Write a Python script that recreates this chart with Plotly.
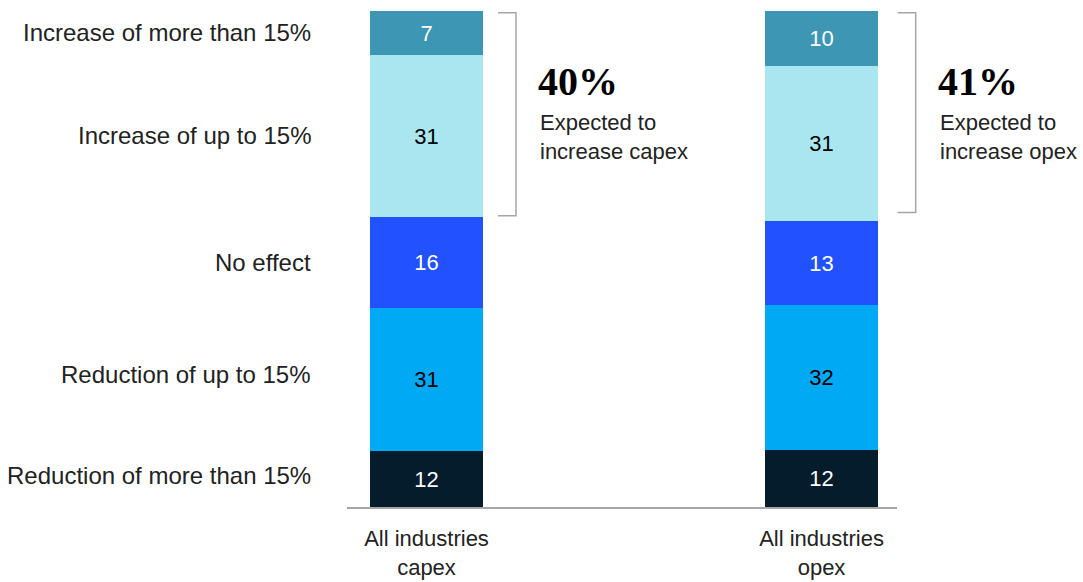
import plotly.graph_objects as go

# ---- data ----
categories = ["Reduction of more than 15%", "Reduction of up to 15%", "No effect",
              "Increase of up to 15%", "Increase of more than 15%"]
bars = ["All industries<br>capex", "All industries<br>opex"]
# segment shares (bar heights, % of respondents)
capex_share = [11.35, 28.77, 18.35, 32.72, 8.81]
opex_share = [11.55, 29.09, 16.94, 31.25, 11.09]
# printed labels
capex_labels = ["12", "31", "16", "31", "7"]
opex_labels = ["12", "32", "13", "31", "10"]
headline = ["40%", "41%"]
headline_sub = ["Expected to<br>increase capex", "Expected to<br>increase opex"]
bracket_ranges = [(58.7, 99.66), (59.4, 99.66)]

colors = ["#051C2C", "#00A9F4", "#2251FF", "#AAE6F0", "#3C96B4"]
text_colors = ["white", "black", "white", "black", "white"]

FONT = "Liberation Sans, Arial, sans-serif"
XR = [-0.2013, 1.1911]
PLOT_W = 550.0


def to_paper(xd):
    return (xd - XR[0]) / (XR[1] - XR[0])


fig = go.Figure()
xs = [0, 1]
for i, cat in enumerate(categories):
    fig.add_trace(go.Bar(
        x=xs, y=[capex_share[i], opex_share[i]],
        text=[capex_labels[i], opex_labels[i]],
        textposition="inside", insidetextanchor="middle",
        textfont=dict(color=text_colors[i], size=22, family=FONT),
        marker=dict(color=colors[i], line=dict(width=0)),
        width=0.286, name=cat, showlegend=False, hoverinfo="skip",
        textangle=0, constraintext="none",
    ))

# category labels on left at capex segment midpoints
label_shift = [-3, -5, 0, 0, 0]
cum = 0
for i, cat in enumerate(categories):
    mid = cum + capex_share[i] / 2
    cum += capex_share[i]
    fig.add_annotation(x=0, xref="paper", y=mid, yref="y", text=cat,
                       xanchor="right", yanchor="middle", xshift=-34, yshift=-label_shift[i],
                       showarrow=False,
                       font=dict(size=24, family=FONT, color="#222"))

# brackets and headline text
bracket_gap = [33, 37.7]   # px from bar edge to bracket vertical
for j in range(2):
    x_bar_right = xs[j] + 0.143
    x1 = to_paper(x_bar_right) + bracket_gap[j] / PLOT_W
    x0 = x1 - 18 / PLOT_W
    lo, hi = bracket_ranges[j]
    fig.add_shape(type="path",
                  path=f"M {x0} {hi} L {x1} {hi} L {x1} {lo} L {x0} {lo}",
                  xref="paper", yref="y", line=dict(color="#A6A6A6", width=1.5))
    fig.add_annotation(x=x1 + 20 / PLOT_W, xref="paper", y=0.857, yref="paper", text=f"<b>{headline[j]}</b>",
                       xanchor="left", yanchor="middle", showarrow=False,
                       font=dict(size=40, family="Liberation Serif, Times New Roman, serif", color="#000"))
    fig.add_annotation(x=x1 + 22 / PLOT_W, xref="paper", y=0.746, yref="paper", text=headline_sub[j],
                       xanchor="left", yanchor="middle", showarrow=False, align="left",
                       font=dict(size=22, family=FONT, color="#222"))

fig.update_layout(
    barmode="stack", width=1083, height=582,
    margin=dict(l=347, r=186, t=11, b=75, autoexpand=False),
    paper_bgcolor="white", plot_bgcolor="white",
    bargap=0,
)
fig.update_xaxes(range=XR, tickvals=xs, ticktext=bars, automargin=False,
                 showline=True, linecolor="#A6A6A6", linewidth=1.5,
                 ticks="outside", ticklen=11, tickcolor="rgba(0,0,0,0)",
                 tickfont=dict(size=22, family=FONT, color="#222"),
                 showgrid=False, zeroline=False, fixedrange=True)
fig.update_yaxes(range=[0, 100], visible=False, showgrid=False, zeroline=False, fixedrange=True)

fig.write_html("out.html", config={"displayModeBar": False})
